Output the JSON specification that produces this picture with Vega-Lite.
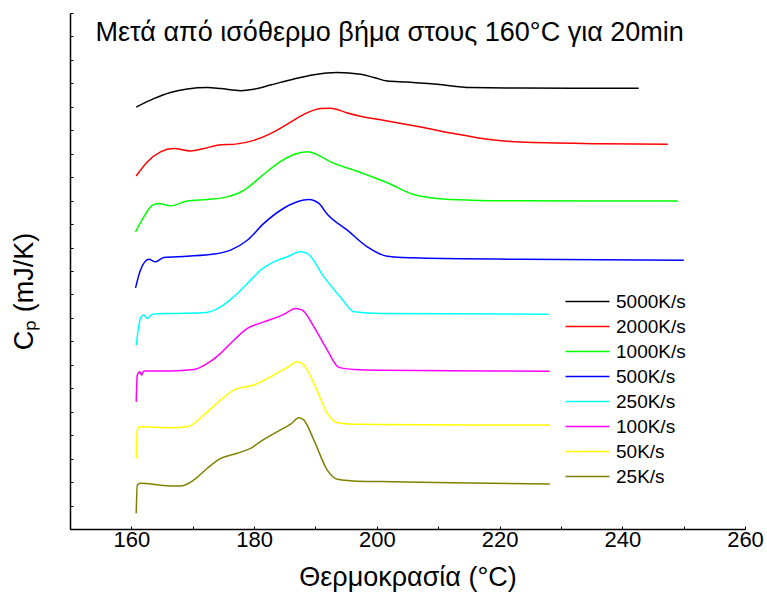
{
  "$schema": "https://vega.github.io/schema/vega-lite/v6.json",
  "width": 675,
  "height": 516,
  "autosize": {"type": "none"},
  "padding": {"left": 70, "top": 13, "right": 22, "bottom": 69},
  "background": "white",
  "config": {
    "view": {"stroke": null},
    "font": "Liberation Sans",
    "axis": {"grid": false, "domainColor": "black", "domainWidth": 1.5, "tickColor": "black", "tickWidth": 1, "labelColor": "black", "titleColor": "black", "titleFontWeight": "normal", "labelFont": "Liberation Sans", "titleFont": "Liberation Sans"},
    "legend": {"labelFont": "Liberation Sans"}
  },
  "layer": [
    {
      "data": {
        "values": [
          {"rate": "5000K/s", "T": 160.79, "Cp": 17.99},
          {"rate": "5000K/s", "T": 163.66, "Cp": 18.35},
          {"rate": "5000K/s", "T": 166.38, "Cp": 18.61},
          {"rate": "5000K/s", "T": 169.11, "Cp": 18.76},
          {"rate": "5000K/s", "T": 172.37, "Cp": 18.82},
          {"rate": "5000K/s", "T": 174.54, "Cp": 18.78},
          {"rate": "5000K/s", "T": 177.80, "Cp": 18.69},
          {"rate": "5000K/s", "T": 179.96, "Cp": 18.75},
          {"rate": "5000K/s", "T": 182.68, "Cp": 18.93},
          {"rate": "5000K/s", "T": 186.49, "Cp": 19.19},
          {"rate": "5000K/s", "T": 189.75, "Cp": 19.37},
          {"rate": "5000K/s", "T": 193.56, "Cp": 19.46},
          {"rate": "5000K/s", "T": 197.36, "Cp": 19.39},
          {"rate": "5000K/s", "T": 199.53, "Cp": 19.25},
          {"rate": "5000K/s", "T": 201.71, "Cp": 19.10},
          {"rate": "5000K/s", "T": 204.97, "Cp": 19.06},
          {"rate": "5000K/s", "T": 209.86, "Cp": 18.96},
          {"rate": "5000K/s", "T": 215.29, "Cp": 18.82},
          {"rate": "5000K/s", "T": 223.44, "Cp": 18.80},
          {"rate": "5000K/s", "T": 242.68, "Cp": 18.79},

          {"rate": "2000K/s", "T": 160.79, "Cp": 15.05},
          {"rate": "2000K/s", "T": 162.59, "Cp": 15.65},
          {"rate": "2000K/s", "T": 164.75, "Cp": 16.08},
          {"rate": "2000K/s", "T": 166.92, "Cp": 16.22},
          {"rate": "2000K/s", "T": 169.64, "Cp": 16.12},
          {"rate": "2000K/s", "T": 171.81, "Cp": 16.22},
          {"rate": "2000K/s", "T": 174.00, "Cp": 16.36},
          {"rate": "2000K/s", "T": 177.26, "Cp": 16.42},
          {"rate": "2000K/s", "T": 179.96, "Cp": 16.57},
          {"rate": "2000K/s", "T": 182.68, "Cp": 16.86},
          {"rate": "2000K/s", "T": 185.41, "Cp": 17.26},
          {"rate": "2000K/s", "T": 188.12, "Cp": 17.68},
          {"rate": "2000K/s", "T": 190.84, "Cp": 17.93},
          {"rate": "2000K/s", "T": 192.47, "Cp": 17.94},
          {"rate": "2000K/s", "T": 195.19, "Cp": 17.74},
          {"rate": "2000K/s", "T": 197.36, "Cp": 17.60},
          {"rate": "2000K/s", "T": 201.71, "Cp": 17.40},
          {"rate": "2000K/s", "T": 207.14, "Cp": 17.14},
          {"rate": "2000K/s", "T": 212.57, "Cp": 16.86},
          {"rate": "2000K/s", "T": 218.01, "Cp": 16.62},
          {"rate": "2000K/s", "T": 223.44, "Cp": 16.50},
          {"rate": "2000K/s", "T": 236.49, "Cp": 16.43},
          {"rate": "2000K/s", "T": 247.41, "Cp": 16.40},

          {"rate": "1000K/s", "T": 160.68, "Cp": 12.67},
          {"rate": "1000K/s", "T": 162.03, "Cp": 13.31},
          {"rate": "1000K/s", "T": 163.40, "Cp": 13.80},
          {"rate": "1000K/s", "T": 164.48, "Cp": 13.88},
          {"rate": "1000K/s", "T": 166.38, "Cp": 13.78},
          {"rate": "1000K/s", "T": 169.11, "Cp": 13.98},
          {"rate": "1000K/s", "T": 172.37, "Cp": 14.05},
          {"rate": "1000K/s", "T": 175.63, "Cp": 14.16},
          {"rate": "1000K/s", "T": 178.33, "Cp": 14.44},
          {"rate": "1000K/s", "T": 181.06, "Cp": 15.01},
          {"rate": "1000K/s", "T": 183.78, "Cp": 15.58},
          {"rate": "1000K/s", "T": 186.49, "Cp": 15.97},
          {"rate": "1000K/s", "T": 188.67, "Cp": 16.08},
          {"rate": "1000K/s", "T": 190.84, "Cp": 15.89},
          {"rate": "1000K/s", "T": 192.47, "Cp": 15.65},
          {"rate": "1000K/s", "T": 196.27, "Cp": 15.30},
          {"rate": "1000K/s", "T": 201.71, "Cp": 14.76},
          {"rate": "1000K/s", "T": 206.05, "Cp": 14.26},
          {"rate": "1000K/s", "T": 209.86, "Cp": 14.09},
          {"rate": "1000K/s", "T": 215.29, "Cp": 14.02},
          {"rate": "1000K/s", "T": 223.44, "Cp": 13.99},
          {"rate": "1000K/s", "T": 249.04, "Cp": 13.98},

          {"rate": "500K/s", "T": 160.68, "Cp": 10.28},
          {"rate": "500K/s", "T": 161.49, "Cp": 11.04},
          {"rate": "500K/s", "T": 162.85, "Cp": 11.50},
          {"rate": "500K/s", "T": 163.94, "Cp": 11.39},
          {"rate": "500K/s", "T": 165.29, "Cp": 11.58},
          {"rate": "500K/s", "T": 169.11, "Cp": 11.63},
          {"rate": "500K/s", "T": 173.44, "Cp": 11.72},
          {"rate": "500K/s", "T": 176.17, "Cp": 11.89},
          {"rate": "500K/s", "T": 178.89, "Cp": 12.31},
          {"rate": "500K/s", "T": 181.59, "Cp": 13.03},
          {"rate": "500K/s", "T": 184.32, "Cp": 13.59},
          {"rate": "500K/s", "T": 187.04, "Cp": 13.95},
          {"rate": "500K/s", "T": 188.93, "Cp": 14.05},
          {"rate": "500K/s", "T": 190.56, "Cp": 13.88},
          {"rate": "500K/s", "T": 191.93, "Cp": 13.42},
          {"rate": "500K/s", "T": 195.19, "Cp": 12.74},
          {"rate": "500K/s", "T": 198.45, "Cp": 12.03},
          {"rate": "500K/s", "T": 201.71, "Cp": 11.63},
          {"rate": "500K/s", "T": 207.14, "Cp": 11.55},
          {"rate": "500K/s", "T": 223.44, "Cp": 11.50},
          {"rate": "500K/s", "T": 250.02, "Cp": 11.46},

          {"rate": "250K/s", "T": 160.79, "Cp": 7.84},
          {"rate": "250K/s", "T": 161.49, "Cp": 8.98},
          {"rate": "250K/s", "T": 162.03, "Cp": 9.12},
          {"rate": "250K/s", "T": 162.59, "Cp": 8.98},
          {"rate": "250K/s", "T": 163.40, "Cp": 9.16},
          {"rate": "250K/s", "T": 166.38, "Cp": 9.19},
          {"rate": "250K/s", "T": 171.81, "Cp": 9.22},
          {"rate": "250K/s", "T": 174.54, "Cp": 9.47},
          {"rate": "250K/s", "T": 176.17, "Cp": 9.79},
          {"rate": "250K/s", "T": 177.26, "Cp": 10.04},
          {"rate": "250K/s", "T": 179.43, "Cp": 10.61},
          {"rate": "250K/s", "T": 181.06, "Cp": 11.04},
          {"rate": "250K/s", "T": 183.22, "Cp": 11.39},
          {"rate": "250K/s", "T": 185.41, "Cp": 11.61},
          {"rate": "250K/s", "T": 187.58, "Cp": 11.82},
          {"rate": "250K/s", "T": 188.67, "Cp": 11.75},
          {"rate": "250K/s", "T": 191.38, "Cp": 10.75},
          {"rate": "250K/s", "T": 194.38, "Cp": 9.79},
          {"rate": "250K/s", "T": 196.27, "Cp": 9.26},
          {"rate": "250K/s", "T": 200.62, "Cp": 9.19},
          {"rate": "250K/s", "T": 228.01, "Cp": 9.16},

          {"rate": "100K/s", "T": 160.79, "Cp": 5.42},
          {"rate": "100K/s", "T": 160.96, "Cp": 6.56},
          {"rate": "100K/s", "T": 161.38, "Cp": 6.70},
          {"rate": "100K/s", "T": 161.66, "Cp": 6.56},
          {"rate": "100K/s", "T": 162.03, "Cp": 6.74},
          {"rate": "100K/s", "T": 166.38, "Cp": 6.74},
          {"rate": "100K/s", "T": 170.18, "Cp": 6.80},
          {"rate": "100K/s", "T": 172.37, "Cp": 7.06},
          {"rate": "100K/s", "T": 174.54, "Cp": 7.49},
          {"rate": "100K/s", "T": 176.70, "Cp": 8.05},
          {"rate": "100K/s", "T": 178.89, "Cp": 8.55},
          {"rate": "100K/s", "T": 181.59, "Cp": 8.83},
          {"rate": "100K/s", "T": 184.85, "Cp": 9.15},
          {"rate": "100K/s", "T": 186.76, "Cp": 9.40},
          {"rate": "100K/s", "T": 187.85, "Cp": 9.33},
          {"rate": "100K/s", "T": 189.75, "Cp": 8.62},
          {"rate": "100K/s", "T": 191.93, "Cp": 7.63},
          {"rate": "100K/s", "T": 193.82, "Cp": 6.89},
          {"rate": "100K/s", "T": 196.27, "Cp": 6.80},
          {"rate": "100K/s", "T": 200.62, "Cp": 6.77},
          {"rate": "100K/s", "T": 228.17, "Cp": 6.73},

          {"rate": "50K/s", "T": 160.79, "Cp": 3.01},
          {"rate": "50K/s", "T": 160.96, "Cp": 4.22},
          {"rate": "50K/s", "T": 161.38, "Cp": 4.36},
          {"rate": "50K/s", "T": 166.38, "Cp": 4.32},
          {"rate": "50K/s", "T": 169.11, "Cp": 4.36},
          {"rate": "50K/s", "T": 171.81, "Cp": 4.86},
          {"rate": "50K/s", "T": 174.54, "Cp": 5.50},
          {"rate": "50K/s", "T": 176.70, "Cp": 5.92},
          {"rate": "50K/s", "T": 179.96, "Cp": 6.14},
          {"rate": "50K/s", "T": 182.68, "Cp": 6.49},
          {"rate": "50K/s", "T": 185.41, "Cp": 6.89},
          {"rate": "50K/s", "T": 187.04, "Cp": 7.13},
          {"rate": "50K/s", "T": 188.12, "Cp": 6.99},
          {"rate": "50K/s", "T": 189.75, "Cp": 6.21},
          {"rate": "50K/s", "T": 191.93, "Cp": 4.93},
          {"rate": "50K/s", "T": 193.56, "Cp": 4.53},
          {"rate": "50K/s", "T": 196.27, "Cp": 4.47},
          {"rate": "50K/s", "T": 200.62, "Cp": 4.46},
          {"rate": "50K/s", "T": 228.17, "Cp": 4.43},

          {"rate": "25K/s", "T": 160.79, "Cp": 0.67},
          {"rate": "25K/s", "T": 160.96, "Cp": 1.87},
          {"rate": "25K/s", "T": 161.49, "Cp": 1.95},
          {"rate": "25K/s", "T": 164.75, "Cp": 1.87},
          {"rate": "25K/s", "T": 168.01, "Cp": 1.83},
          {"rate": "25K/s", "T": 170.18, "Cp": 2.09},
          {"rate": "25K/s", "T": 172.37, "Cp": 2.59},
          {"rate": "25K/s", "T": 174.54, "Cp": 3.01},
          {"rate": "25K/s", "T": 177.26, "Cp": 3.23},
          {"rate": "25K/s", "T": 179.43, "Cp": 3.44},
          {"rate": "25K/s", "T": 181.59, "Cp": 3.82},
          {"rate": "25K/s", "T": 183.78, "Cp": 4.15},
          {"rate": "25K/s", "T": 185.95, "Cp": 4.47},
          {"rate": "25K/s", "T": 187.30, "Cp": 4.74},
          {"rate": "25K/s", "T": 188.12, "Cp": 4.64},
          {"rate": "25K/s", "T": 189.75, "Cp": 3.79},
          {"rate": "25K/s", "T": 191.93, "Cp": 2.51},
          {"rate": "25K/s", "T": 193.56, "Cp": 2.12},
          {"rate": "25K/s", "T": 196.27, "Cp": 2.05},
          {"rate": "25K/s", "T": 200.62, "Cp": 2.02},
          {"rate": "25K/s", "T": 228.17, "Cp": 1.92}
        ]
      },
      "mark": {"type": "line", "interpolate": "monotone", "strokeWidth": 1.5},
      "encoding": {
        "x": {
          "field": "T",
          "type": "quantitative",
          "scale": {"domain": [150, 260], "nice": false, "zero": false},
          "axis": {
            "title": "Θερμοκρασία (°C)",
            "titleFontSize": 27,
            "titlePadding": 14,
            "values": [150, 160, 170, 180, 190, 200, 210, 220, 230, 240, 250, 260],
            "labelExpr": "datum.value % 20 === 0 ? datum.label : ''",
            "labelFontSize": 22,
            "labelFlush": false,
            "labelOverlap": false,
            "labelPadding": 3,
            "tickSize": -3
          }
        },
        "y": {
          "field": "Cp",
          "type": "quantitative",
          "scale": {"domain": [0, 22], "nice": false, "zero": false},
          "axis": {
            "title": "Cₚ (mJ/K)",
            "titleFontSize": 27,
            "titlePadding": 31,
            "titleY": 278,
            "labels": false,
            "values": [0, 1, 2, 3, 4, 5, 6, 7, 8, 9, 10, 11, 12, 13, 14, 15, 16, 17, 18, 19, 20, 21, 22],
            "tickSize": -3
          }
        },
        "color": {
          "field": "rate",
          "type": "nominal",
          "sort": null,
          "scale": {
            "domain": ["5000K/s", "2000K/s", "1000K/s", "500K/s", "250K/s", "100K/s", "50K/s", "25K/s"],
            "range": ["#000000", "#ff0000", "#00ff00", "#0000ff", "#00ffff", "#ff00ff", "#ffff00", "#808000"]
          },
          "legend": {
            "title": null,
            "orient": "none",
            "legendX": 508,
            "legendY": 279,
            "symbolType": "M-4,0H4",
            "symbolSize": 121,
            "symbolStrokeWidth": 1.5,
            "labelFontSize": 19,
            "labelColor": "black",
            "labelOffset": 19,
            "rowPadding": 5,
            "padding": 0
          }
        },
        "strokeWidth": {
          "condition": {"test": "datum.rate === '25K/s'", "value": 2.5},
          "value": 1.5
        }
      }
    },
    {
      "data": {"values": [{"label": "Μετά από ισόθερμο βήμα στους 160°C για 20min"}]},
      "mark": {"type": "text", "align": "left", "baseline": "alphabetic", "fontSize": 27, "font": "Liberation Sans", "color": "black"},
      "encoding": {
        "x": {
          "datum": 154.16,
          "type": "quantitative",
          "axis": {
            "title": "Θερμοκρασία (°C)",
            "titleFontSize": 27,
            "titlePadding": 14,
            "values": [150, 160, 170, 180, 190, 200, 210, 220, 230, 240, 250, 260],
            "labelExpr": "datum.value % 20 === 0 ? datum.label : ''",
            "labelFontSize": 22,
            "labelFlush": false,
            "labelOverlap": false,
            "labelPadding": 3,
            "tickSize": -3
          }
        },
        "y": {
          "datum": 20.79,
          "type": "quantitative",
          "axis": {
            "title": "Cₚ (mJ/K)",
            "titleFontSize": 27,
            "titlePadding": 31,
            "titleY": 278,
            "labels": false,
            "values": [0, 1, 2, 3, 4, 5, 6, 7, 8, 9, 10, 11, 12, 13, 14, 15, 16, 17, 18, 19, 20, 21, 22],
            "tickSize": -3
          }
        },
        "text": {"field": "label"}
      }
    }
  ]
}
